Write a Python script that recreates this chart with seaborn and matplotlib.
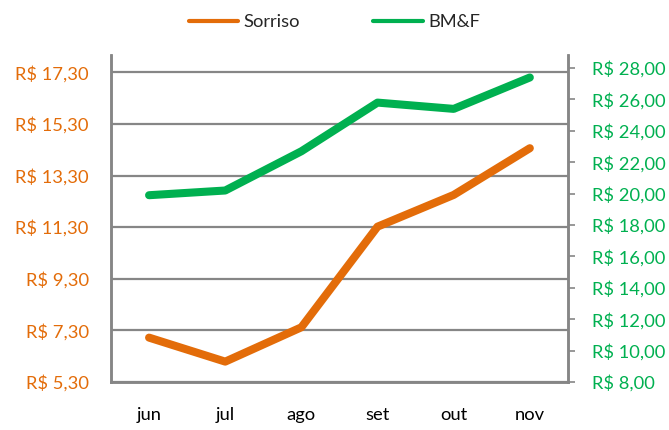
import matplotlib
matplotlib.use("Agg")
import matplotlib.pyplot as plt
import numpy as np
import pandas as pd
import seaborn as sns
from matplotlib.lines import Line2D

MONTHS = ["jun", "jul", "ago", "set", "out", "nov"]
SORRISO = [7.02, 6.09, 7.42, 11.32, 12.55, 14.36]
BMF = [19.9, 20.2, 22.7, 25.8, 25.4, 27.4]
LEFT_TICKS = [5.3, 7.3, 9.3, 11.3, 13.3, 15.3, 17.3]
RIGHT_TICKS = [8, 10, 12, 14, 16, 18, 20, 22, 24, 26, 28]

ORANGE = "#E36C09"
GREEN = "#00B050"
GRAY = "#868686"


def brl(value: float) -> str:
    return "R$ " + f"{value:.2f}".replace(".", ",")


sns.set_theme(style="white")
plt.rcParams["font.family"] = ["Lato", "DejaVu Sans"]

df = pd.DataFrame({"month": MONTHS, "x": np.arange(len(MONTHS)),
                   "Sorriso": SORRISO, "BM&F": BMF})

fig = plt.figure(figsize=(6.69, 4.30), dpi=100)
ax = fig.add_axes([0.1659, 0.1116, 0.683, 0.7604])
ax2 = ax.twinx()

sns.lineplot(data=df, x="x", y="Sorriso", ax=ax, color=ORANGE,
             linewidth=5.8, solid_capstyle="round", solid_joinstyle="round",
             zorder=3)
sns.lineplot(data=df, x="x", y="BM&F", ax=ax2, color=GREEN,
             linewidth=5.8, solid_capstyle="round", solid_joinstyle="round",
             zorder=3)

ax.set_xlim(-0.5, len(MONTHS) - 0.5)
ax.set_ylim(5.3, 17.97)
ax2.set_ylim(8, 28.83)

ax.set_xticks(df["x"])
ax.set_xticklabels(MONTHS)
ax.set_yticks(LEFT_TICKS)
ax.set_yticklabels([brl(v) for v in LEFT_TICKS])
ax2.set_yticks(RIGHT_TICKS)
ax2.set_yticklabels([brl(v) for v in RIGHT_TICKS])

for a in (ax, ax2):
    a.set_xlabel("")
    a.set_ylabel("")

ax.yaxis.grid(True, color=GRAY, linewidth=1.6)
ax.set_axisbelow(True)
ax.tick_params(axis="x", length=0, pad=18, labelsize=13.2, labelcolor="black")
ax.tick_params(axis="y", length=0, pad=16, labelsize=13.2, labelcolor=ORANGE)
ax2.tick_params(axis="y", length=5, width=1.2, color=GRAY, pad=12,
                labelsize=13.2, labelcolor=GREEN)

for a in (ax, ax2):
    a.spines["top"].set_visible(False)
    for side in ("left", "right", "bottom"):
        a.spines[side].set_color(GRAY)
        a.spines[side].set_linewidth(1.8)

handles = [Line2D([], [], color=ORANGE, linewidth=3),
           Line2D([], [], color=GREEN, linewidth=3)]
fig.legend(handles, ["Sorriso", "BM&F"], loc="center", ncol=2,
           bbox_to_anchor=(0.5, 0.948), frameon=False, fontsize=13.2,
           handlelength=2.7, handletextpad=0.3, columnspacing=4.0)

fig.savefig("out.png", dpi=100)
